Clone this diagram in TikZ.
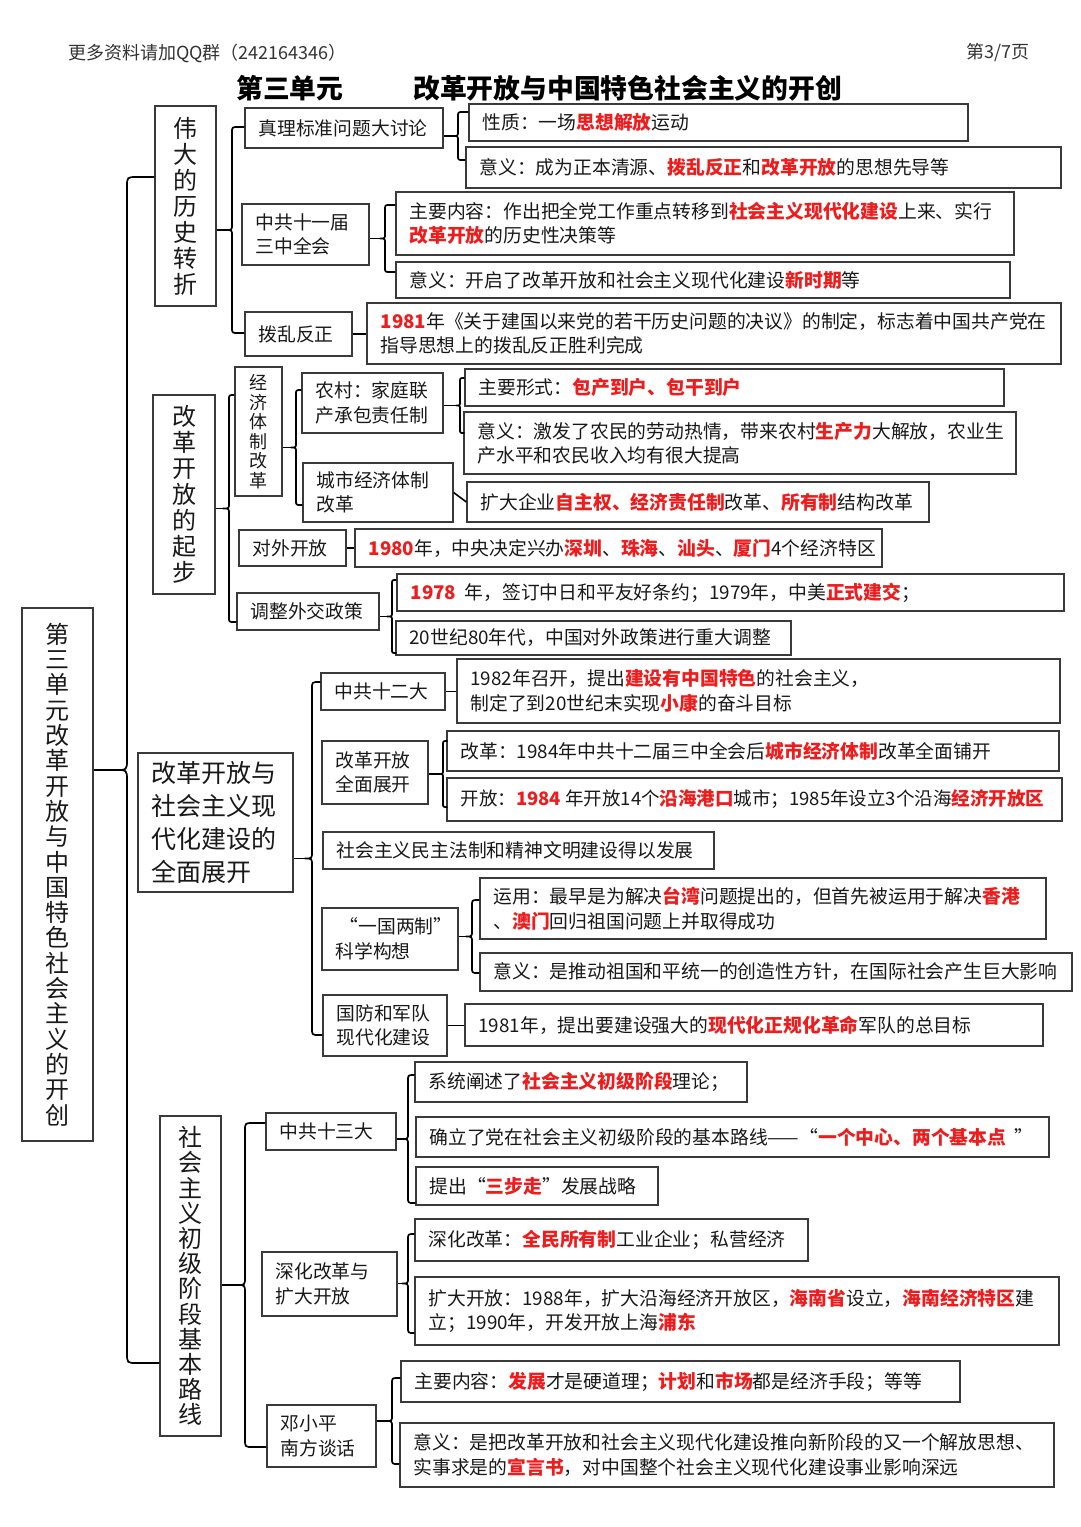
\documentclass[tikz,border=0pt]{standalone}
\usepackage{fontspec}
\setmainfont{Noto Sans CJK SC}
\definecolor{hlred}{HTML}{EE1C1C}
\definecolor{boxline}{HTML}{3A3A3A}
\newcommand\hl[1]{\textcolor{hlred}{\bfseries #1}}
\tikzset{
 boxshape/.style={draw=boxline, line width=1.3pt, inner sep=0pt, fill=white},
 txt/.style={font=\fontsize{18.8}{24.5}\selectfont, align=left, inner sep=0pt, anchor=west, text=black!90},
 vtxt/.style={align=center, inner sep=0pt, text=black!90},
 brace/.style={draw=black, line width=1.7pt, line join=round},
 conn/.style={draw=black, line width=1.6pt},
}
\newcommand\tb[7][]{% opts name x1 y1 x2 y2 text
 \pgfmathsetmacro\bxw{#5-#3}\pgfmathsetmacro\bxh{#6-#4}%
 \node[boxshape, minimum width=\bxw pt, minimum height=\bxh pt] (#2) at ({(#3+#5)/2},{(#4+#6)/2}) {};%
 \node[txt,#1] (#2-t) at ([xshift=14pt]#2.west) {#7};%
}
\newcommand\vb[7]{% name x1 y1 x2 y2 font text
 \pgfmathsetmacro\bxw{#4-#2}\pgfmathsetmacro\bxh{#5-#3}%
 \node[boxshape, minimum width=\bxw pt, minimum height=\bxh pt] (#1) at ({(#2+#4)/2},{(#3+#5)/2}) {};%
 \node[vtxt, font=#6] (#1-t) at (#1.center) {#7};%
}
\newcommand\brc[8]{% parent topchild botchild x ytop ybot r tip
 \pgfmathsetmacro\ym{(#5+#6)/2}%
 \draw[brace] (#2.west |- #4,#5) -- (#4+#7,#5) .. controls (#4,#5) .. (#4,#5+#7) -- (#4,\ym-#7) .. controls (#4,\ym) .. (#4-#8,\ym) .. controls (#4,\ym) .. (#4,\ym+#7) -- (#4,#6-#7) .. controls (#4,#6) .. (#4+#7,#6) -- (#3.west |- #4,#6);%
 \draw[brace] (#4-#8,\ym) -- (#1.east |- #4,\ym);%
}
\begin{document}
\begin{tikzpicture}[x=1pt,y=-1pt]
\useasboundingbox (0,0) rectangle (1080,1527);
\fill[white] (0,0) rectangle (1080,1527);
% header
\node[anchor=west, font=\fontsize{18}{18}\selectfont, text=black!80, inner sep=0pt] (hdrL) at (68,53) {更多资料请加QQ群（242164346）};
\node[anchor=east, font=\fontsize{18}{18}\selectfont, text=black!80, inner sep=0pt] (hdrR) at (1030,53) {第3/7页};
\node[anchor=west, font=\fontsize{26.8}{26.8}\selectfont\bfseries, inner sep=0pt] (t1) at (236,88) {第三单元};
\node[anchor=west, font=\fontsize{26.8}{26.8}\selectfont\bfseries, inner sep=0pt] (t2) at (413,88) {改革开放与中国特色社会主义的开创};
% root
\vb{R}{22}{608}{93}{1141}{\fontsize{24}{25.3}\selectfont}{第\\三\\单\\元\\改\\革\\开\\放\\与\\中\\国\\特\\色\\社\\会\\主\\义\\的\\开\\创}
% A
\vb{A}{155}{106}{216}{306}{\fontsize{24}{26}\selectfont}{伟\\大\\的\\历\\史\\转\\折}
\tb{A1}{245}{108}{443}{148}{真理标准问题大讨论}
\tb{A2}{242}{204}{369}{265}{中共十一届\\三中全会}
\tb{A3}{245}{312}{352}{356}{拨乱反正}
\tb{A1a}{469}{104}{968}{141}{性质：一场\hl{思想解放}运动}
\tb{A1b}{466}{147}{1061}{188}{意义：成为正本清源、\hl{拨乱反正}和\hl{改革开放}的思想先导等}
\tb{A2a}{396}{192}{1014}{255}{主要内容：作出把全党工作重点转移到\hl{社会主义现代化建设}上来、实行\\\hl{改革开放}的历史性决策等}
\tb{A2b}{396}{262}{1010}{298}{意义：开启了改革开放和社会主义现代化建设\hl{新时期}等}
\tb{A3a}{367}{303}{1061}{364}{\hl{1981}年《关于建国以来党的若干历史问题的决议》的制定，标志着中国共产党在\\指导思想上的拨乱反正胜利完成}
% B
\vb{B}{153}{395}{215}{594}{\fontsize{24}{26}\selectfont}{改\\革\\开\\放\\的\\起\\步}
\vb{B1}{235}{367}{282}{496}{\fontsize{18}{19.5}\selectfont}{经\\济\\体\\制\\改\\革}
\tb{B1a}{302}{373}{443}{433}{农村：家庭联\\产承包责任制}
\tb{B1b}{303}{463}{453}{522}{城市经济体制\\改革}
\tb{B1aa}{465}{369}{1004}{406}{主要形式：\hl{包产到户、包干到户}}
\tb{B1ab}{464}{412}{1016}{474}{意义：激发了农民的劳动热情，带来农村\hl{生产力}大解放，农业生\\产水平和农民收入均有很大提高}
\tb{B1ba}{467}{482}{929}{522}{扩大企业\hl{自主权、经济责任制}改革、\hl{所有制}结构改革}
\tb{B2}{239}{530}{346}{566}{对外开放}
\tb{B2a}{355}{529}{882}{567}{\hl{1980}年，中央决定兴办\hl{深圳}、\hl{珠海}、\hl{汕头}、\hl{厦门}4个经济特区}
\tb{B3}{237}{593}{379}{630}{调整外交政策}
\tb{B3a}{397}{574}{1064}{611}{\hl{1978}\ \ 年，签订中日和平友好条约；1979年，中美\hl{正式建交}；}
\tb{B3b}{396}{621}{791}{655}{20世纪80年代，中国对外政策进行重大调整}
% C
\tb[font=\fontsize{25}{33}\selectfont]{C}{138}{753}{293}{892}{改革开放与\\社会主义现\\代化建设的\\全面展开}
\tb{C1}{321}{673}{445}{710}{中共十二大}
\tb{C1a}{457}{659}{1060}{723}{1982年召开，提出\hl{建设有中国特色}的社会主义，\\制定了到20世纪末实现\hl{小康}的奋斗目标}
\tb{C2}{322}{741}{428}{804}{改革开放\\全面展开}
\tb{C2a}{447}{731}{1059}{771}{改革：1984年中共十二届三中全会后\hl{城市经济体制}改革全面铺开}
\tb[font=\fontsize{18.5}{24.5}\selectfont]{C2b}{447}{778}{1062}{821}{开放：\hl{1984}\ 年开放14个\hl{沿海港口}城市；1985年设立3个沿海\hl{经济开放区}}
\tb{C3}{323}{832}{714}{869}{社会主义民主法制和精神文明建设得以发展}
\tb{C4}{322}{908}{458}{970}{\ “一国两制”\\科学构想}
\tb{C4a}{480}{878}{1046}{939}{运用：最早是为解决\hl{台湾}问题提出的，但首先被运用于解决\hl{香港}\\、\hl{澳门}回归祖国问题上并取得成功}
\tb{C4b}{480}{953}{1072}{991}{意义：是推动祖国和平统一的创造性方针，在国际社会产生巨大影响}
\tb{C5}{323}{995}{447}{1056}{国防和军队\\现代化建设}
\tb{C5a}{465}{1004}{1043}{1046}{1981年，提出要建设强大的\hl{现代化正规化革命}军队的总目标}
% D
\vb{D}{160}{1116}{221}{1436}{\fontsize{24}{25.2}\selectfont}{社\\会\\主\\义\\初\\级\\阶\\段\\基\\本\\路\\线}
\tb{D1}{266}{1113}{396}{1150}{中共十三大}
\tb{D1a}{415}{1062}{747}{1102}{系统阐述了\hl{社会主义初级阶段}理论；}
\tb{D1b}{416}{1117}{1049}{1157}{确立了党在社会主义初级阶段的基本路线——“\hl{一个中心、两个基本点}\ \ ”}
\tb{D1c}{416}{1167}{658}{1205}{提出“\hl{三步走}”发展战略}
\tb{D2}{262}{1252}{397}{1316}{深化改革与\\扩大开放}
\tb{D2a}{415}{1219}{808}{1261}{深化改革：\hl{全民所有制}工业企业；私营经济}
\tb{D2b}{415}{1277}{1059}{1345}{扩大开放：1988年，扩大沿海经济开放区，\hl{海南省}设立，\hl{海南经济特区}建\\立；1990年，开发开放上海\hl{浦东}}
\tb{D3}{267}{1405}{376}{1467}{邓小平\\南方谈话}
\tb{D3a}{401}{1361}{960}{1402}{主要内容：\hl{发展}才是硬道理；\hl{计划}和\hl{市场}都是经济手段；等等}
\tb{D3b}{400}{1423}{1054}{1487}{意义：是把改革开放和社会主义现代化建设推向新阶段的又一个解放思想、\\实事求是的\hl{宣言书}，对中国整个社会主义现代化建设事业影响深远}
% braces
\brc{R}{A}{D}{127}{177}{1363}{10}{12}
\brc{A}{A1}{A3}{232}{127}{333}{6}{6}
\brc{A1}{A1a}{A1b}{458}{112}{160}{5}{5}
\brc{A2}{A2a}{A2b}{385}{205}{272}{5}{5}
\brc{B}{B1}{B3}{229}{395}{622}{5}{6}
\brc{B1}{B1a}{B1b}{296}{390}{505}{5}{5}
\brc{B1a}{B1aa}{B1ab}{460}{378}{433}{4}{4}
\brc{B3}{B3a}{B3b}{392}{580}{653}{4}{5}
\brc{C}{C1}{C5}{312}{682}{1035}{7}{7}
\brc{C2}{C2a}{C2b}{443}{741}{807}{4}{4}
\brc{C4}{C4a}{C4b}{472}{900}{973}{6}{6}
\brc{D}{D1}{D3}{245}{1123}{1447}{8}{8}
\brc{D1}{D1a}{D1c}{408}{1075}{1203}{6}{6}
\brc{D2}{D2a}{D2b}{408}{1234}{1333}{6}{6}
\brc{D3}{D3a}{D3b}{392}{1378}{1464}{6}{6}
% direct connectors
\draw[conn] (A3.east) -- (A3a.west |- A3.east);
\draw[conn] (B2.east) -- (B2a.west |- B2.east);
\draw[conn] (C1.east) -- (C1a.west |- C1.east);
\draw[conn] (C5.east) -- (C5a.west |- C5.east);
\draw[conn] (B1b.east) -- (B1ba.west);
\end{tikzpicture}
\end{document}
